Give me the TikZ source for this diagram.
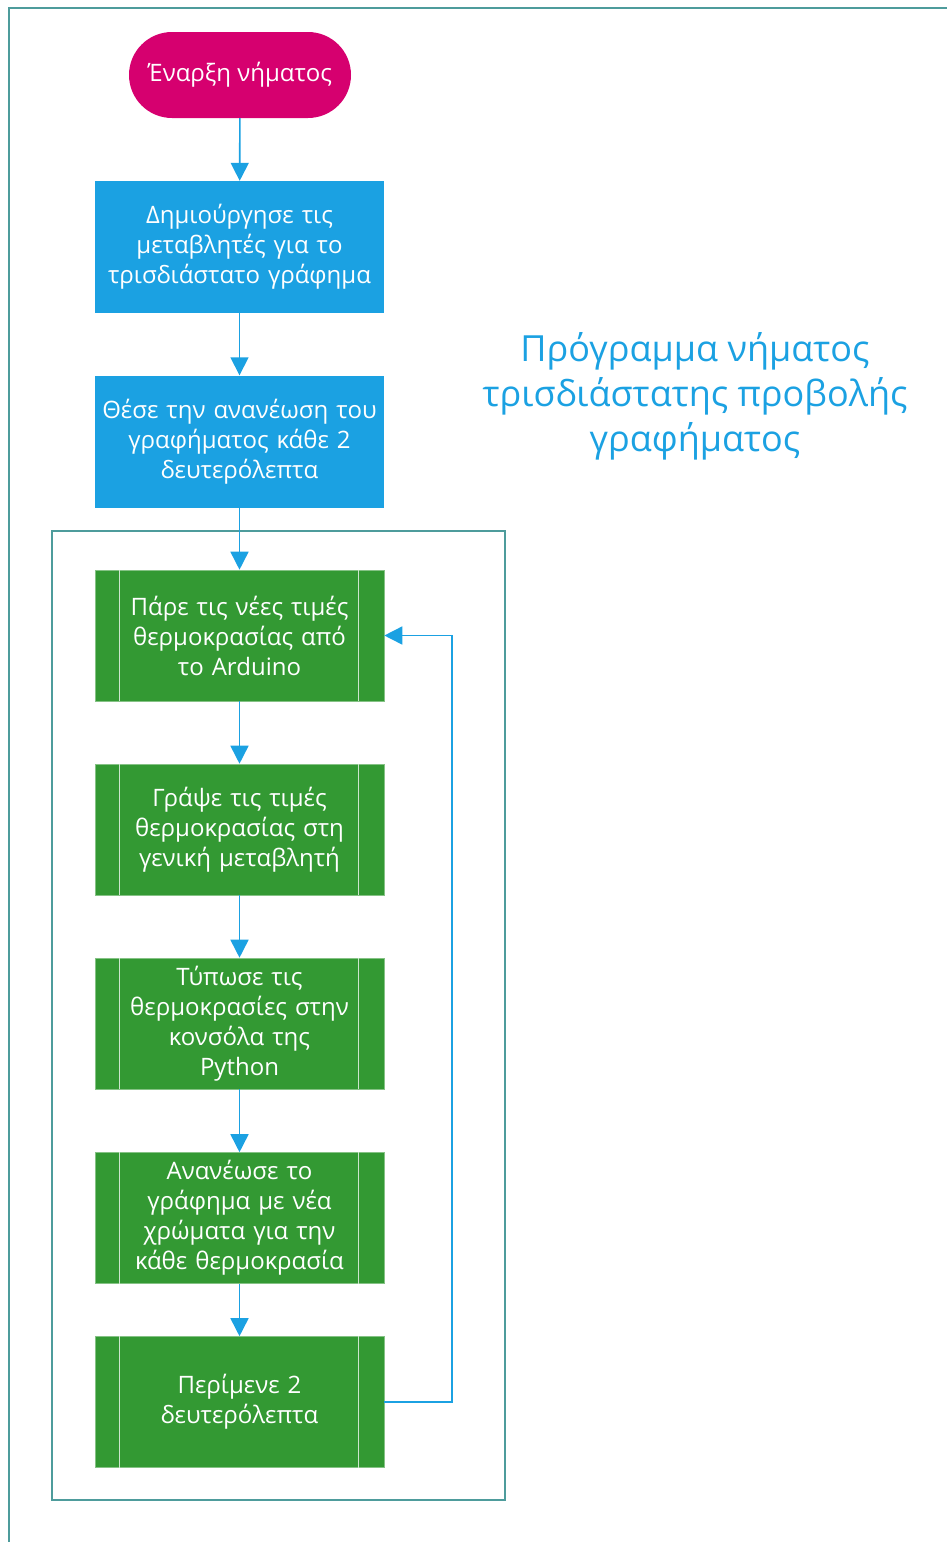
\documentclass[tikz,border=0pt]{standalone}
\usepackage{fontspec}
\setmainfont{Open Sans}
\usetikzlibrary{arrows.meta,shapes.misc}
\definecolor{startred}{HTML}{D6006F}
\definecolor{stepblue}{HTML}{1BA1E2}
\definecolor{subgreen}{HTML}{339933}
\definecolor{frameteal}{HTML}{4E9C9C}
\tikzset{
  x=1pt, y=-1pt,
  txt/.style={font=\fontsize{24}{30}\selectfont, text=white, align=center},
  startbox/.style={txt, rounded rectangle, fill=startred, minimum width=222pt, minimum height=86pt, inner sep=0pt},
  actbox/.style={txt, rectangle, fill=stepblue, minimum width=289pt, minimum height=132pt, text width=285pt, inner sep=0pt},
  subbox/.style={txt, rectangle, fill=subgreen, draw=subgreen!60!white, line width=0.6pt, minimum width=289pt, minimum height=131pt, text width=236pt, inner sep=0pt},
  flow/.style={draw=stepblue, line width=1.6pt, -{Triangle[width=18pt,length=18pt]}},
  frame/.style={draw=frameteal, line width=1.6pt},
}
\begin{document}
\begin{tikzpicture}
\useasboundingbox (0,0) rectangle (947,1542);
% outer frame (open to the right and bottom)
\draw[frame] (947,8) -- (9,8) -- (9,1542);
% inner loop frame
\draw[frame] (52,531) rectangle (505,1500);

\node[startbox] (start) at (240,75) {Έναρξη νήματος};
\node[actbox] (vars) at (239.5,247) {Δημιούργησε τις\\μεταβλητές για το\\τρισδιάστατο γράφημα};
\node[actbox] (rate) at (239.5,441.5) {Θέσε την ανανέωση του\\γραφήματος κάθε 2\\δευτερόλεπτα};

\node[subbox] (read) at (239.5,635.5) {Πάρε τις νέες τιμές\\θερμοκρασίας από\\το Arduino};
\node[subbox] (store) at (239.5,829.5) {Γράψε τις τιμές\\θερμοκρασίας στη\\γενική μεταβλητή};
\node[subbox] (print) at (239.5,1023.5) {Τύπωσε τις\\θερμοκρασίες στην\\κονσόλα της\\Python};
\node[subbox] (plot) at (239.5,1218) {Ανανέωσε το\\γράφημα με νέα\\χρώματα για την\\κάθε θερμοκρασία};
\node[subbox] (wait) at (239.5,1402) {Περίμενε 2\\δευτερόλεπτα};

% side bars of the subprocess boxes
\foreach \b in {read,store,print,plot,wait}{
  \draw[white!75!subgreen, line width=1.2pt] ([xshift=25pt]\b.north west) -- ([xshift=25pt]\b.south west);
  \draw[white!75!subgreen, line width=1.2pt] ([xshift=-26pt]\b.north east) -- ([xshift=-26pt]\b.south east);
}

\node[font=\fontsize{36}{45}\selectfont, text=stepblue, align=center] (title) at (695,396) {Πρόγραμμα νήματος\\τρισδιάστατης προβολής\\γραφήματος};

\draw[flow] (start) -- (vars);
\draw[flow] (vars) -- (rate);
\draw[flow] (rate) -- (read);
\draw[flow] (read) -- (store);
\draw[flow] (store) -- (print);
\draw[flow] (print) -- (plot);
\draw[flow] (plot) -- (wait);
\coordinate (back) at (452,1402);
\draw[flow] (wait.east) -- (back) |- (read.east);
\end{tikzpicture}
\end{document}
